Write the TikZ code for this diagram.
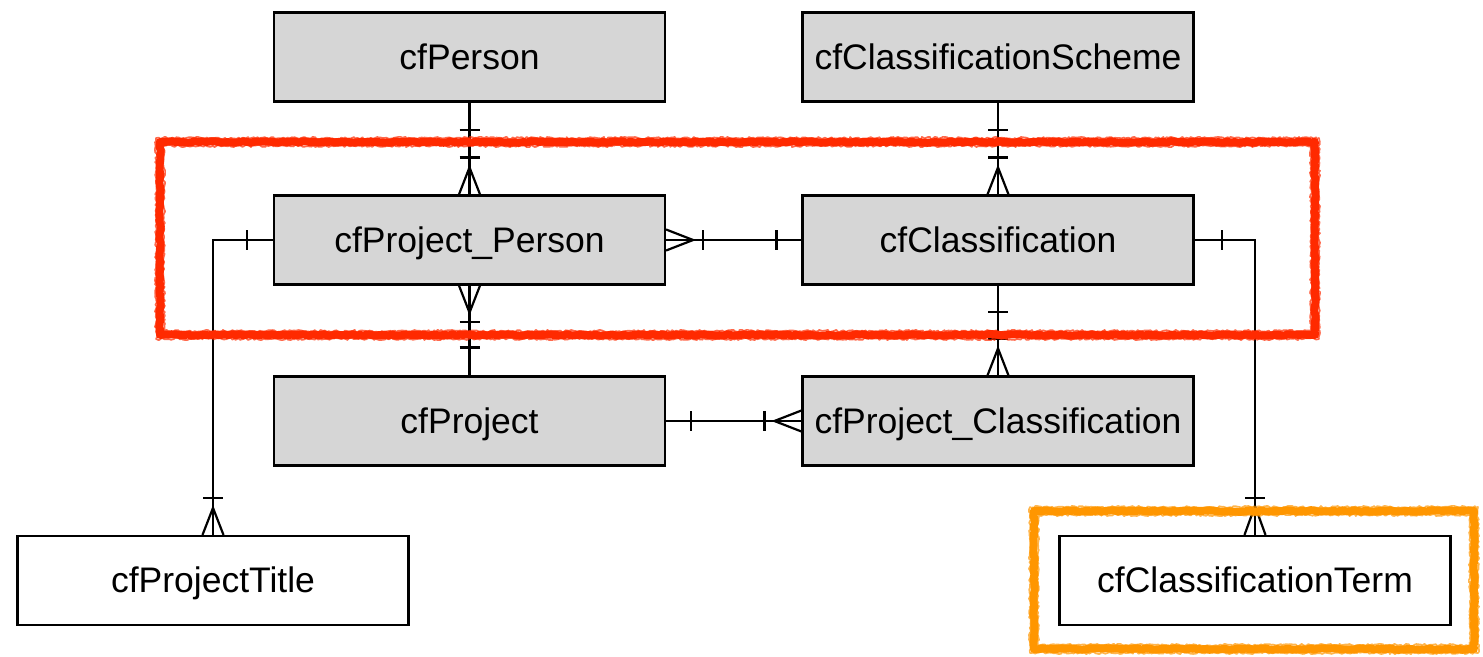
\documentclass[tikz,border=0pt]{standalone}
\usepackage{fontspec}
\setmainfont{Liberation Sans}
\usetikzlibrary{calc,decorations.pathmorphing}
\definecolor{boxgray}{HTML}{D6D6D6}
\definecolor{sketchred}{HTML}{FF2A00}
\definecolor{sketchorange}{HTML}{FF9600}
\newcommand\erBarV[2]{\draw[rel] ($(#1)+(-10,#2)$) -- ($(#1)+(10,#2)$);}
\newcommand\erBarH[2]{\draw[rel] ($(#1)+(#2,-10)$) -- ($(#1)+(#2,10)$);}
\newcommand\erCrowV[2]{\draw[rel] ($(#1)+(-10.5,0)$) -- ($(#1)+(0,#2)$) -- ($(#1)+(10.5,0)$);}
\newcommand\erCrowH[2]{\draw[rel] ($(#1)+(0,-10.5)$) -- ($(#1)+(#2,0)$) -- ($(#1)+(0,10.5)$);}
\begin{document}
\begin{tikzpicture}[x=1pt,y=-1pt,
  entity/.style={draw=black, line width=2.2pt, fill=boxgray, minimum width=391pt,
    minimum height=89pt, inner sep=0pt, text height=26pt, text depth=2pt,
    font=\fontsize{35.5}{42}\selectfont},
  plainentity/.style={entity, fill=white},
  rel/.style={line width=2.2pt, draw=black},
  sketch/.style={line width=8pt, line join=round, line cap=round, decorate,
    decoration={random steps, segment length=4pt, amplitude=0.8pt}},
  sketchfine/.style={line width=1.6pt, line join=round, line cap=round, decorate,
    decoration={random steps, segment length=2pt, amplitude=1.2pt}}]
\useasboundingbox (0,0) rectangle (1483,656);

\node[entity] (pers)   at (469.5,57)  {cfPerson};
\node[entity] (scheme) at (998,57)    {cfClassificationScheme};
\node[entity] (pp)     at (469.5,240) {cfProject\_Person};
\node[entity] (cls)    at (998,240)   {cfClassification};
\node[entity] (proj)   at (469.5,421) {cfProject};
\node[entity] (pc)     at (998,421)   {cfProject\_Classification};
\node[plainentity] (title) at (213,580.5)    {cfProjectTitle};
\node[plainentity] (term)  at (1255,580.5)   {cfClassificationTerm};

% cfPerson -- cfProject_Person
\draw[rel] (pers) -- (pp);
\erBarV{pers.south}{27}
\erBarV{pp.north}{-37}
\erCrowV{pp.north}{-27}

% cfProject_Person -- cfProject
\draw[rel] (pp) -- (proj);
\erCrowV{pp.south}{27}
\erBarV{pp.south}{36}
\erBarV{proj.north}{-28}

% cfClassificationScheme -- cfClassification
\draw[rel] (scheme) -- (cls);
\erBarV{scheme.south}{27}
\erBarV{cls.north}{-37}
\erCrowV{cls.north}{-27}

% cfClassification -- cfProject_Classification
\draw[rel] (cls) -- (pc);
\erBarV{cls.south}{26}
\erBarV{pc.north}{-37}
\erCrowV{pc.north}{-27}

% cfProject_Person -- cfClassification
\draw[rel] (pp) -- (cls);
\erCrowH{pp.east}{27}
\erBarH{pp.east}{37}
\erBarH{cls.west}{-25}

% cfProject -- cfProject_Classification
\draw[rel] (proj) -- (pc);
\erBarH{proj.east}{25}
\erBarH{pc.west}{-37}
\erCrowH{pc.west}{-27}

% cfProject_Person -- cfProjectTitle
\draw[rel] (pp.west) -| (title.north);
\erBarH{pp.west}{-26}
\erBarV{title.north}{-37}
\erCrowV{title.north}{-27}

% cfClassification -- cfClassificationTerm
\draw[rel] (cls.east) -| (term.north);
\erBarH{cls.east}{27}
\erBarV{term.north}{-37}
\erCrowV{term.north}{-29}

% sketchy highlight frames
\coordinate (rA) at (160,142);
\coordinate (rB) at (1315,335);
\coordinate (oA) at (1034,511);
\coordinate (oB) at (1474,649);
\draw[sketch, sketchred] (rA) rectangle (rB);
\draw[sketchfine, sketchred, opacity=0.7] ($(rA)+(-4,-4)$) rectangle ($(rB)+(4,4)$);
\draw[sketchfine, sketchred, opacity=0.7] ($(rA)+(4,4)$) rectangle ($(rB)+(-4,-4)$);
\draw[sketch, sketchorange] (oA) rectangle (oB);
\draw[sketchfine, sketchorange, opacity=0.7] ($(oA)+(-4,-4)$) rectangle ($(oB)+(4,4)$);
\draw[sketchfine, sketchorange, opacity=0.7] ($(oA)+(4,4)$) rectangle ($(oB)+(-4,-4)$);
\end{tikzpicture}
\end{document}
